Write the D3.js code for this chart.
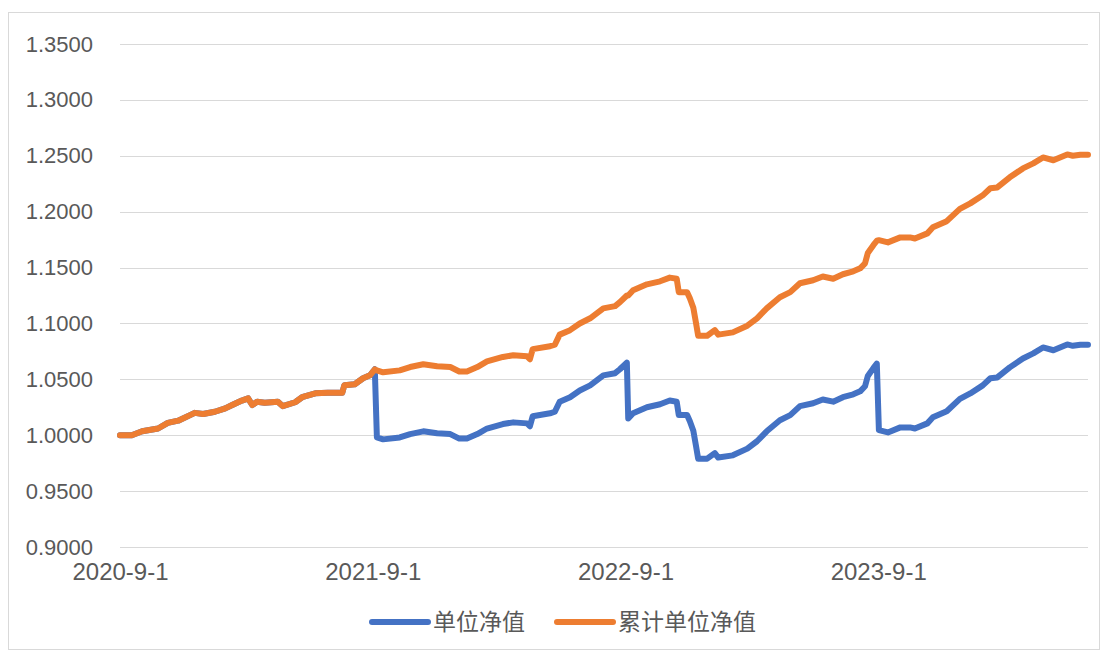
<!DOCTYPE html>
<html>
<head>
<meta charset="utf-8">
<script src="https://cdn.jsdelivr.net/npm/d3@7"></script>
<style>
  body { margin: 0; background: #fff; }
  text { fill: #595959; }
</style>
</head>
<body>
<svg id="chart" width="1105" height="653"></svg>
<script>
// trading dates (sampled) and the two NAV series
var dates = [
  "2020-09-01","2020-09-18","2020-10-03","2020-10-26","2020-11-09","2020-11-24","2020-12-18","2020-12-30",
  "2021-01-16","2021-01-31","2021-02-10","2021-02-24","2021-03-05","2021-03-11","2021-03-18","2021-03-29",
  "2021-04-17","2021-04-24","2021-05-12","2021-05-22","2021-06-10","2021-06-28","2021-07-19","2021-07-22",
  "2021-08-06","2021-08-18","2021-08-28","2021-09-04","2021-09-07","2021-09-16","2021-10-10","2021-10-25",
  "2021-11-13","2021-12-03","2021-12-22","2022-01-04","2022-01-15","2022-01-30","2022-02-13","2022-03-08",
  "2022-03-23","2022-04-12","2022-04-16","2022-04-20","2022-05-15","2022-05-22","2022-05-29","2022-06-13",
  "2022-06-27","2022-07-12","2022-07-31","2022-08-17","2022-08-24","2022-09-03","2022-09-05","2022-09-12",
  "2022-10-02","2022-10-21","2022-11-04","2022-11-14","2022-11-17","2022-11-29","2022-12-03","2022-12-08",
  "2022-12-12","2022-12-15","2022-12-28","2023-01-08","2023-01-13","2023-02-03","2023-02-24","2023-03-10",
  "2023-03-24","2023-04-12","2023-04-27","2023-05-11","2023-05-30","2023-06-13","2023-06-28","2023-07-12",
  "2023-07-27","2023-08-06","2023-08-13","2023-08-17","2023-08-25","2023-08-30","2023-09-02","2023-09-15",
  "2023-10-03","2023-10-17","2023-10-24","2023-11-11","2023-11-19","2023-12-09","2023-12-28","2024-01-12",
  "2024-01-30","2024-02-10","2024-02-20","2024-03-09","2024-03-28","2024-04-12","2024-04-26","2024-05-11",
  "2024-05-31","2024-06-08","2024-06-19","2024-06-30"
];

// 单位净值
var unitNav = [
  1.000,1.000,1.0036,1.006,1.011,1.013,1.020,1.019,
  1.021,1.024,1.027,1.031,1.033,1.027,1.030,1.029,
  1.030,1.026,1.0295,1.034,1.0375,1.038,1.038,1.0447,
  1.0456,1.051,1.0536,1.059,0.998,0.9963,0.998,1.001,
  1.0035,1.0017,1.001,0.997,0.997,1.001,1.006,1.010,
  1.0115,1.0106,1.008,1.017,1.0196,1.021,1.030,1.034,
  1.040,1.0446,1.0535,1.0555,1.059,1.065,1.015,1.0197,
  1.025,1.0277,1.031,1.030,1.018,1.018,1.0125,1.004,
  0.990,0.979,0.979,0.984,0.980,0.982,0.988,0.9946,
  1.0035,1.0134,1.018,1.026,1.0286,1.032,1.030,1.034,
  1.0366,1.0393,1.0438,1.053,1.060,1.064,1.0045,1.0025,
  1.007,1.007,1.006,1.0106,1.016,1.0215,1.0325,1.0374,
  1.0446,1.051,1.0517,1.0607,1.0687,1.0732,1.0785,1.076,
  1.0812,1.080,1.081,1.081
];

// 累计单位净值
var cumNav = [
  1.000,1.000,1.0036,1.006,1.011,1.013,1.020,1.019,
  1.021,1.024,1.027,1.031,1.033,1.027,1.030,1.029,
  1.030,1.026,1.0295,1.034,1.0375,1.038,1.038,1.0447,
  1.0456,1.051,1.0536,1.059,1.058,1.0563,1.058,1.061,
  1.0635,1.0617,1.061,1.057,1.057,1.061,1.066,1.070,
  1.0715,1.0706,1.068,1.077,1.0796,1.081,1.090,1.094,
  1.100,1.1046,1.1135,1.1155,1.119,1.125,1.125,1.1297,
  1.135,1.1377,1.141,1.140,1.128,1.128,1.1225,1.114,
  1.100,1.089,1.089,1.094,1.090,1.092,1.098,1.1046,
  1.1135,1.1234,1.128,1.136,1.1386,1.142,1.140,1.144,
  1.1466,1.1493,1.1538,1.163,1.170,1.174,1.1745,1.1725,
  1.177,1.177,1.176,1.1806,1.186,1.1915,1.2025,1.2074,
  1.2146,1.221,1.2217,1.2307,1.2387,1.2432,1.2485,1.246,
  1.2512,1.250,1.251,1.251
];

var yTicks = [0.90, 0.95, 1.00, 1.05, 1.10, 1.15, 1.20, 1.25, 1.30, 1.35];
var xTickLabels = ["2020-9-1", "2021-9-1", "2022-9-1", "2023-9-1"];
var seriesNames = ["单位净值", "累计单位净值"];
var colors = ["#4472C4", "#ED7D31"];

var parse = d3.timeParse("%Y-%m-%d");
var xTickDates = xTickLabels.map(function(s) { return parse(s); });

var svg = d3.select("#chart");

// outer chart border
svg.append("rect")
  .attr("x", 8.5).attr("y", 12.5)
  .attr("width", 1091).attr("height", 637)
  .attr("fill", "none").attr("stroke", "#d9d9d9").attr("stroke-width", 1);

var x = d3.scaleTime()
  .domain([parse("2020-09-01"), parse("2024-06-30")])
  .range([120, 1088]);

var y = d3.scaleLinear()
  .domain([0.9, 1.35])
  .range([547, 44]);

// gridlines
svg.append("g")
  .selectAll("line")
  .data(yTicks)
  .join("line")
  .attr("x1", 120).attr("x2", 1088)
  .attr("y1", function(d) { return Math.round(y(d)) + 0.5; })
  .attr("y2", function(d) { return Math.round(y(d)) + 0.5; })
  .attr("stroke", "#d9d9d9").attr("stroke-width", 1.2);

// y axis labels
var yAxis = d3.axisLeft(y).tickValues(yTicks).tickFormat(d3.format(".4f")).tickSize(0).tickPadding(0);
svg.append("g")
  .attr("transform", "translate(93,0)")
  .call(yAxis)
  .call(function(g) { g.select(".domain").remove(); })
  .selectAll("text")
  .attr("font-family", "'Liberation Sans', Arial, sans-serif")
  .attr("font-size", "22px")
  .attr("fill", "#595959");

// x axis labels
var xAxis = d3.axisBottom(x).tickValues(xTickDates)
  .tickFormat(function(d, i) { return xTickLabels[i]; })
  .tickSize(0).tickPadding(0);
svg.append("g")
  .attr("transform", "translate(0,563)")
  .call(xAxis)
  .call(function(g) { g.select(".domain").remove(); })
  .selectAll("text")
  .attr("font-family", "'Liberation Sans', Arial, sans-serif")
  .attr("font-size", "24px")
  .attr("fill", "#595959");

var data = dates.map(function(d, i) {
  return { date: parse(d), unit: unitNav[i], cum: cumNav[i] };
});

var lineUnit = d3.line().x(function(d) { return x(d.date); }).y(function(d) { return y(d.unit); });
var lineCum = d3.line().x(function(d) { return x(d.date); }).y(function(d) { return y(d.cum); });

svg.append("path")
  .datum(data)
  .attr("d", lineUnit)
  .attr("fill", "none").attr("stroke", colors[0])
  .attr("stroke-width", 6).attr("stroke-linejoin", "round").attr("stroke-linecap", "round");

svg.append("path")
  .datum(data)
  .attr("d", lineCum)
  .attr("fill", "none").attr("stroke", colors[1])
  .attr("stroke-width", 6).attr("stroke-linejoin", "round").attr("stroke-linecap", "round");

// legend
var legendX = [372, 557];
var legend = svg.append("g").selectAll("g")
  .data(seriesNames)
  .join("g")
  .attr("transform", function(d, i) { return "translate(" + legendX[i] + ",622)"; });
legend.append("line")
  .attr("x1", 0).attr("x2", 56).attr("y1", 0).attr("y2", 0)
  .attr("stroke", function(d, i) { return colors[i]; })
  .attr("stroke-width", 6).attr("stroke-linecap", "round");
legend.append("text")
  .attr("x", 61).attr("y", 0).attr("dy", "0.36em")
  .attr("font-family", "'Noto Sans CJK SC', sans-serif")
  .attr("font-size", "23px")
  .attr("fill", "#595959")
  .text(function(d) { return d; });
</script>
</body>
</html>
